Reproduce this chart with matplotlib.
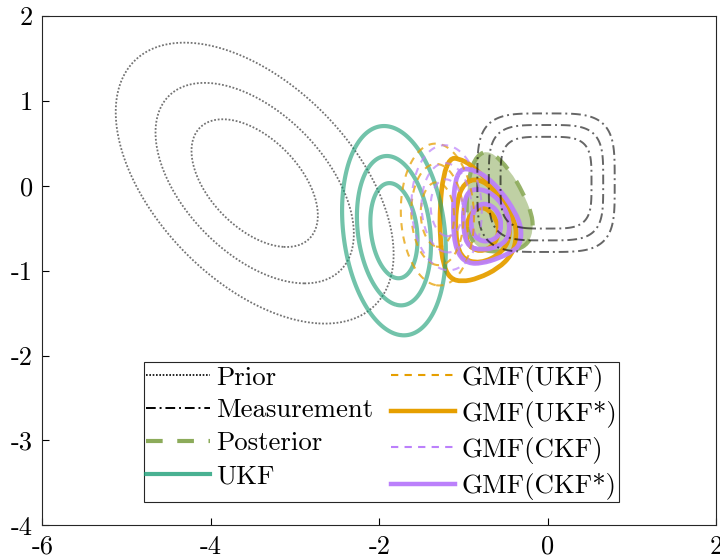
import numpy as np
import matplotlib
matplotlib.use("Agg")
import matplotlib.pyplot as plt
from matplotlib.path import Path
from matplotlib.patches import PathPatch
from matplotlib.lines import Line2D

plt.rcParams['font.family'] = 'cmr10'
plt.rcParams['axes.unicode_minus'] = False
plt.rcParams['mathtext.fontset'] = 'cm'

# contour radii (Mahalanobis) used for every Gaussian
radii = [1.0, 1.57, 2.2]

# Gaussian densities: mean, covariance
prior_mean = [-3.48, 0.03]
prior_cov = [[0.5625, -0.285], [-0.285, 0.565]]
ukf_mean = [-1.826, -0.53]
ukf_cov = [[0.0784, -0.03], [-0.03, 0.3136]]
gmf_ukf_mean = [-1.31, -0.34]
gmf_ukf_cov = [[0.039, -0.004], [-0.004, 0.144]]
gmf_ckf_mean = [-1.20, -0.26]
gmf_ckf_cov = [[0.036, -0.004], [-0.004, 0.112]]

# measurement likelihood (super-ellipse contours)
meas_center = [-0.02, 0.035]
meas_halfwidth = 0.54
meas_power = 4
meas_levels = [1.0, 2.5, 5.2]

# posterior outline
post_x = [-0.843, -0.685, -0.448, -0.290, -0.190, -0.171, -0.230, -0.368, -0.566, -0.804, -0.947, -0.970, -0.935]
post_y = [0.360, 0.419, 0.184, -0.091, -0.326, -0.523, -0.680, -0.759, -0.782, -0.759, -0.582, -0.228, 0.125]

# GMF(UKF*) contours, outer -> inner
gu_x = [
    [-1.160, -1.062, -0.903, -0.705, -0.507, -0.388, -0.368, -0.428, -0.587, -0.824, -1.021, -1.160, -1.240, -1.279, -1.279, -1.240],
    [-0.828, -0.626, -0.483, -0.436, -0.543, -0.804, -1.042, -1.101, -1.077, -0.994],
    [-0.804, -0.638, -0.566, -0.661, -0.852, -0.982, -0.958],
]
gu_y = [
    [0.322, 0.322, 0.243, 0.046, -0.190, -0.425, -0.621, -0.817, -0.974, -1.092, -1.132, -1.092, -0.935, -0.621, -0.228, 0.125],
    [0.090, -0.052, -0.287, -0.582, -0.794, -0.923, -0.853, -0.523, -0.170, 0.031],
    [-0.228, -0.335, -0.546, -0.735, -0.782, -0.641, -0.382],
]

# GMF(CKF*) contours, outer -> inner
gc_x = [
    [-1.042, -0.943, -0.745, -0.546, -0.388, -0.309, -0.329, -0.428, -0.587, -0.784, -0.943, -1.062, -1.121, -1.121, -1.101],
    [-0.863, -0.685, -0.527, -0.448, -0.468, -0.587, -0.784, -0.943, -1.002, -1.002, -0.962],
    [-0.843, -0.705, -0.587, -0.546, -0.587, -0.705, -0.824, -0.903, -0.911],
]
gc_y = [
    [0.184, 0.204, 0.125, -0.072, -0.307, -0.503, -0.700, -0.779, -0.856, -0.915, -0.915, -0.817, -0.582, -0.228, 0.046],
    [-0.032, -0.072, -0.228, -0.425, -0.621, -0.720, -0.759, -0.720, -0.543, -0.267, -0.091],
    [-0.228, -0.208, -0.307, -0.464, -0.602, -0.661, -0.641, -0.543, -0.385],
]

c_ukf = '#1b9e77'
c_orange = '#e69f00'
c_purple = '#bb80fb'
c_post = '#8cab5a'

gx, gy = np.meshgrid(np.linspace(-6, 2, 801), np.linspace(-4, 2, 601))


def mahal2(mean, cov):
    inv = np.linalg.inv(np.array(cov))
    dx, dy = gx - mean[0], gy - mean[1]
    return inv[0, 0] * dx ** 2 + 2 * inv[0, 1] * dx * dy + inv[1, 1] * dy ** 2


def smooth_path(xs, ys):
    pts = np.column_stack([xs, ys])
    mids = (pts + np.roll(pts, -1, axis=0)) / 2
    verts = [mids[-1]]
    codes = [Path.MOVETO]
    for p, m in zip(pts, mids):
        verts += [p, m]
        codes += [Path.CURVE3, Path.CURVE3]
    return Path(verts, codes)


levels = [r ** 2 for r in radii]

fig = plt.figure(figsize=(7.2, 5.56), dpi=100)
ax = fig.add_axes([0.059, 0.055, 0.9356, 0.9166])

ax.contour(gx, gy, mahal2(prior_mean, prior_cov), levels=levels,
           colors='k', alpha=0.55, linewidths=1.3, linestyles=[(0, (1, 1))])
meas = (np.abs(gx - meas_center[0]) / meas_halfwidth) ** meas_power + \
       (np.abs(gy - meas_center[1]) / meas_halfwidth) ** meas_power
ax.contour(gx, gy, meas, levels=meas_levels, colors='k', alpha=0.6,
           linewidths=1.4, linestyles=[(0, (5, 2, 1, 2))])

ppath = smooth_path(post_x, post_y)
ax.add_patch(PathPatch(ppath, facecolor=c_post, edgecolor='none', alpha=0.55))
ax.add_patch(PathPatch(ppath, facecolor='none', edgecolor=c_post, alpha=0.9,
                       lw=3, linestyle=(0, (4, 3.5))))

ax.contour(gx, gy, mahal2(ukf_mean, ukf_cov), levels=levels,
           colors=c_ukf, alpha=0.62, linewidths=3)
ax.contour(gx, gy, mahal2(gmf_ukf_mean, gmf_ukf_cov), levels=levels,
           colors=c_orange, alpha=0.75, linewidths=1.5, linestyles=[(0, (3.5, 3))])
ax.contour(gx, gy, mahal2(gmf_ckf_mean, gmf_ckf_cov), levels=levels,
           colors=c_purple, alpha=0.7, linewidths=1.5, linestyles=[(0, (3.5, 3))])

for xs, ys in zip(gu_x, gu_y):
    ax.add_patch(PathPatch(smooth_path(xs, ys), facecolor='none',
                           edgecolor=c_orange, lw=3.4, alpha=0.95))
for xs, ys in zip(gc_x, gc_y):
    ax.add_patch(PathPatch(smooth_path(xs, ys), facecolor='none',
                           edgecolor=c_purple, lw=3.4, alpha=0.95))

ax.set_xlim(-6, 2)
ax.set_ylim(-4, 2)
ax.set_xticks(np.arange(-6, 3, 2))
ax.set_yticks(np.arange(-4, 3, 1))
ax.tick_params(direction='in', length=5, width=0.8, labelsize=19,
               top=False, right=False, pad=7)
for s in ax.spines.values():
    s.set_linewidth(0.8)
    s.set_color('#262626')

handles = [
    Line2D([], [], color='k', lw=1.2, linestyle=(0, (1, 1))),
    Line2D([], [], color='k', lw=1.4, linestyle=(0, (5, 2, 1, 2))),
    Line2D([], [], color=c_post, lw=3, linestyle=(0, (4, 3.5))),
    Line2D([], [], color=c_ukf, alpha=0.8, lw=3),
    Line2D([], [], color=c_orange, lw=1.5, linestyle=(0, (3.5, 3))),
    Line2D([], [], color=c_orange, lw=3.2),
    Line2D([], [], color=c_purple, lw=1.5, linestyle=(0, (3.5, 3))),
    Line2D([], [], color=c_purple, lw=3.2),
]
labels = ['Prior', 'Measurement', 'Posterior', 'UKF',
          'GMF(UKF)', 'GMF(UKF*)', 'GMF(CKF)', 'GMF(CKF*)']
leg = ax.legend(handles, labels, ncol=2, loc='lower left',
                bbox_to_anchor=(0.1507, 0.0459), borderaxespad=0,
                fontsize=19.3, frameon=True, fancybox=False, framealpha=1,
                edgecolor='#262626', handlelength=2.4, handletextpad=0.22,
                columnspacing=0.65, labelspacing=0.34, borderpad=0.08)
leg.get_frame().set_linewidth(0.8)

fig.savefig('out.png', dpi=100)
